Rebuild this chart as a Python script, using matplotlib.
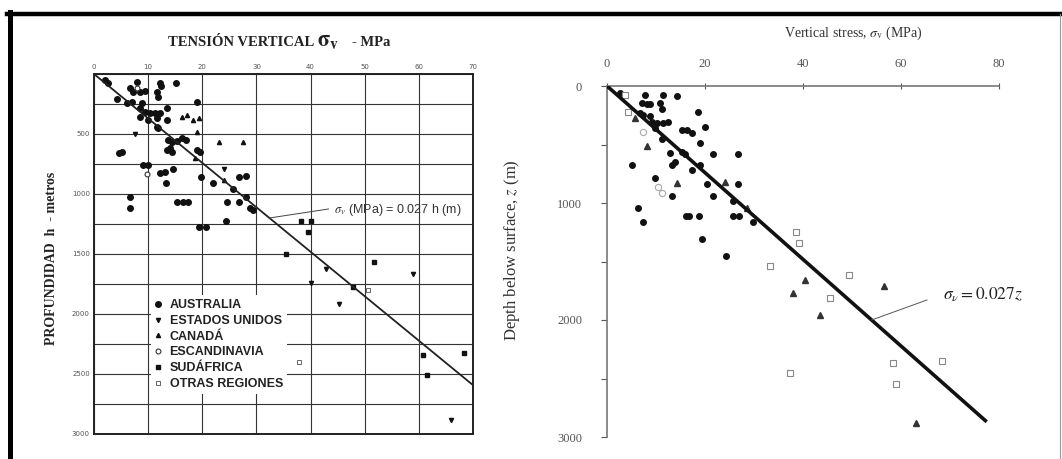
import numpy as np
import matplotlib
matplotlib.use("Agg")
import matplotlib.pyplot as plt
from matplotlib.lines import Line2D

plt.rcParams['mathtext.fontset'] = 'stix'
SERIF = 'Liberation Serif'
SANS = 'Liberation Sans'

# ---- left panel data (sigma MPa, depth m) ----
aus_s = [2.0, 2.6, 8.0, 12.2, 12.4, 15.2, 6.7, 7.2, 8.5, 9.4, 11.7, 11.9, 4.3, 19.0, 6.1, 7.0,
         8.9, 8.5, 9.4, 10.4, 11.3, 12.2, 8.5, 10.0, 11.7, 13.5, 11.7, 11.9, 13.5, 13.7, 14.4,
         15.4, 16.3, 16.9, 5.2, 13.5, 14.1, 14.4, 19.0, 19.6, 10.0, 9.1, 12.2, 13.3, 19.8,
         21.9, 26.7, 25.6, 28.1, 28.9, 29.3, 6.7, 6.7, 15.4, 16.5, 17.4, 24.6, 26.7, 24.3,
         19.4, 20.6, 4.6, 13.1, 14.6, 28.0]
aus_h = [50, 75, 67, 75, 100, 75, 117, 150, 150, 142, 150, 190, 208, 233, 242, 233,
         242, 283, 317, 325, 325, 325, 358, 383, 367, 283, 442, 450, 383, 550, 567,
         558, 533, 550, 650, 633, 617, 650, 633, 650, 758, 758, 825, 908, 858,
         908, 858, 958, 1025, 1117, 1133, 1025, 1117, 1067, 1067, 1067, 1067, 1067, 1225,
         1275, 1275, 658, 817, 792, 850]
usa_s = [7.6, 24.0, 42.8, 58.9, 40.0, 45.2, 66.0]
usa_h = [500, 790, 1625, 1667, 1742, 1917, 2883]
can_s = [16.3, 17.2, 18.3, 19.0, 19.4, 23.0, 27.6, 18.7, 24.0]
can_h = [358, 342, 383, 483, 367, 567, 567, 700, 883]
sca_s = [9.8, 8.0]
sca_h = [833, 120]
saf_s = [38.3, 40.0, 39.6, 35.4, 51.7, 47.8, 60.7, 61.5, 68.4]
saf_h = [1225, 1225, 1317, 1500, 1567, 1775, 2342, 2508, 2325]
oth_s = [50.6, 37.8]
oth_h = [1800, 2400]
legend_labels = ['AUSTRALIA', 'ESTADOS UNIDOS', 'CANADÁ', 'ESCANDINAVIA', 'SUDÁFRICA', 'OTRAS REGIONES']

# ---- right panel data (sigma MPa, depth m) ----
r_dot_s = [2.7, 7.8, 11.4, 14.3, 7.1, 8.2, 8.8, 10.8, 11.2, 6.7, 7.3, 8.8, 18.6, 9.2, 10.2, 11.4,
           12.4, 9.8, 15.3, 16.3, 17.3, 20.0, 11.2, 19.0, 12.9, 15.3, 15.9, 21.6, 26.7, 5.1,
           13.3, 13.9, 17.3, 19.0, 9.8, 20.4, 26.7, 13.3, 21.6, 25.7, 6.3, 7.3, 16.1, 16.7,
           18.8, 25.7, 26.9, 29.8, 19.4, 24.3]
r_dot_z = [60, 77, 77, 85, 145, 154, 154, 145, 197, 231, 248, 256, 222, 308, 316, 316,
           308, 359, 376, 376, 402, 350, 453, 487, 573, 564, 581, 581, 581, 675,
           675, 650, 718, 675, 786, 838, 838, 940, 940, 983, 1043, 1162, 1111, 1111,
           1111, 1111, 1111, 1162, 1308, 1453]
r_sq_s = [3.7, 4.3, 33.3, 38.6, 39.2, 49.4, 45.5, 58.4, 68.4, 37.3, 59.0]
r_sq_z = [77, 222, 1538, 1248, 1342, 1615, 1812, 2368, 2350, 2453, 2547]
r_circ_s = [10.4, 11.2, 7.3]
r_circ_z = [863, 915, 393]
r_tri_s = [5.7, 8.2, 14.3, 24.1, 28.6, 40.4, 38.0, 56.5, 43.5, 63.1]
r_tri_z = [274, 513, 829, 820, 1043, 1658, 1769, 1709, 1957, 2880]

K = 0.027  # MPa per m

W, H = 1062, 459
fig = plt.figure(figsize=(W / 100, H / 100), dpi=100)


def box(x0, y0, x1, y1):
    return [x0 / W, 1 - y1 / H, (x1 - x0) / W, (y1 - y0) / H]


# ================= left panel =================
ax1 = fig.add_axes(box(94, 74, 473, 434))
ax1.set_xlim(0, 70)
ax1.set_ylim(3000, 0)
ax1.set_xticks(np.arange(0, 71, 10))
ax1.set_yticks(np.arange(0, 3001, 250), minor=False)
ax1.set_yticklabels(['' if (v % 500 or v == 0) else str(v) for v in range(0, 3001, 250)])
ax1.xaxis.tick_top()
ax1.tick_params(length=0, labelsize=5, colors='#555555', pad=3)
ax1.grid(True, color='#333333', lw=0.8)
for sp in ax1.spines.values():
    sp.set_linewidth(1.4)
    sp.set_color('#222222')

ms = 4
ax1.plot(aus_s, aus_h, 'o', color='#111111', ms=ms, label=legend_labels[0], zorder=3)
ax1.plot(usa_s, usa_h, 'v', color='#111111', ms=3, label=legend_labels[1], zorder=3)
ax1.plot(can_s, can_h, '^', color='#111111', ms=3, label=legend_labels[2], zorder=3)
ax1.plot(sca_s, sca_h, 'o', mfc='white', mec='#333333', mew=0.8, ms=3.5, label=legend_labels[3], zorder=3)
ax1.plot(saf_s, saf_h, 's', color='#111111', ms=3.5, label=legend_labels[4], zorder=3)
ax1.plot(oth_s, oth_h, 's', mfc='white', mec='#666666', mew=0.7, ms=3, label=legend_labels[5], zorder=3)

h_line = np.array([0, 70 / K])
ax1.plot(K * h_line, h_line, color='#222222', lw=1.3, zorder=4)
ax1.plot([K * 1200, 43.3], [1200, 1125], color='#444444', lw=0.7, zorder=4)
ax1.text(44.3, 1133, r'$\sigma_v$ (MPa) = 0.027 h (m)', fontsize=9, family=SANS,
         color='#333333', va='center', ha='left')

leg = ax1.legend(loc='upper left', bbox_to_anchor=(0.15, 0.385), frameon=True,
                 fancybox=False, edgecolor='none', facecolor='white', framealpha=1,
                 prop={'family': SANS, 'weight': 'bold', 'size': 9},
                 handlelength=0.6, handletextpad=0.6, labelspacing=0.3, borderpad=0.3,
                 borderaxespad=0)
leg.set_zorder(5)
for t in leg.get_texts():
    t.set_color('#222222')

fig.text(314 / W, 1 - 43 / H, 'TENSIÓN VERTICAL', family=SERIF, weight='bold', fontsize=10.5,
         ha='right', va='center', color='#222222')
fig.text(328 / W, 1 - 41 / H, r'$\mathbf{\sigma}_{\mathbf{v}}$', fontsize=16, ha='center',
         va='center', color='#222222')
fig.text(352 / W, 1 - 43 / H, '- MPa', family=SERIF, weight='bold', fontsize=10.5,
         ha='left', va='center', color='#222222')
fig.text(52 / W, 1 - 258 / H, 'PROFUNDIDAD  h  - metros', family=SERIF, weight='bold',
         fontsize=10, rotation=90, ha='center', va='center', color='#222222')

# ================= right panel =================
ax2 = fig.add_axes(box(607, 86, 999, 437))
ax2.set_xlim(0, 80)
ax2.set_ylim(3000, 0)
ax2.xaxis.tick_top()
ax2.set_xticks(np.arange(0, 81, 20))
ax2.set_yticks(np.arange(0, 3001, 500))
ax2.set_yticklabels([str(v) if v % 1000 == 0 else '' for v in range(0, 3001, 500)])
for lab in ax2.get_xticklabels() + ax2.get_yticklabels():
    lab.set_family(SERIF)
ax2.tick_params(axis='x', direction='inout', length=5, labelsize=9, pad=9, colors='#555555')
ax2.tick_params(axis='y', direction='out', length=4, labelsize=9, pad=14, colors='#555555')
for name, sp in ax2.spines.items():
    if name in ('right', 'bottom'):
        sp.set_visible(False)
    else:
        sp.set_color('#777777')
        sp.set_linewidth(1.2)

ax2.plot(r_dot_s, r_dot_z, 'o', color='#111111', ms=4, zorder=3)
ax2.plot(r_sq_s, r_sq_z, 's', mfc='white', mec='#888888', mew=0.8, ms=4.5, zorder=3)
ax2.plot(r_circ_s, r_circ_z, 'o', mfc='white', mec='#aaaaaa', mew=0.8, ms=4.5, zorder=3)
ax2.plot(r_tri_s, r_tri_z, '^', color='#333333', ms=4, zorder=3)

z_line = np.array([0, 2870])
ax2.plot(K * z_line, z_line, color='#111111', lw=2.6, zorder=4, solid_capstyle='butt')
ax2.plot([K * 2000, 65.3], [2000, 1829], color='#555555', lw=0.7, zorder=4)
ax2.text(68.6, 1786, r'$\sigma_\nu = 0.027z$', fontsize=12.5, ha='left', va='center',
         color='#222222', clip_on=False)

fig.text(853 / W, 1 - 33 / H, r'Vertical stress, $\sigma_{\rm v}$ (MPa)', family=SERIF,
         fontsize=10, ha='center', va='center', color='#333333')
fig.text(512 / W, 1 - 250 / H, 'Depth below surface, $z$ (m)', family=SERIF, fontsize=12,
         rotation=90, ha='center', va='center', color='#333333')

# scan border
fig.add_artist(Line2D([7 / W, 1], [1 - 13.5 / H] * 2, color='black', lw=3.2))
fig.add_artist(Line2D([9.5 / W] * 2, [0, 1 - 12 / H], color='black', lw=3.6))
fig.add_artist(Line2D([1060 / W] * 2, [0, 1 - 14 / H], color='#999999', lw=0.8))

fig.savefig('out.png', dpi=100)
